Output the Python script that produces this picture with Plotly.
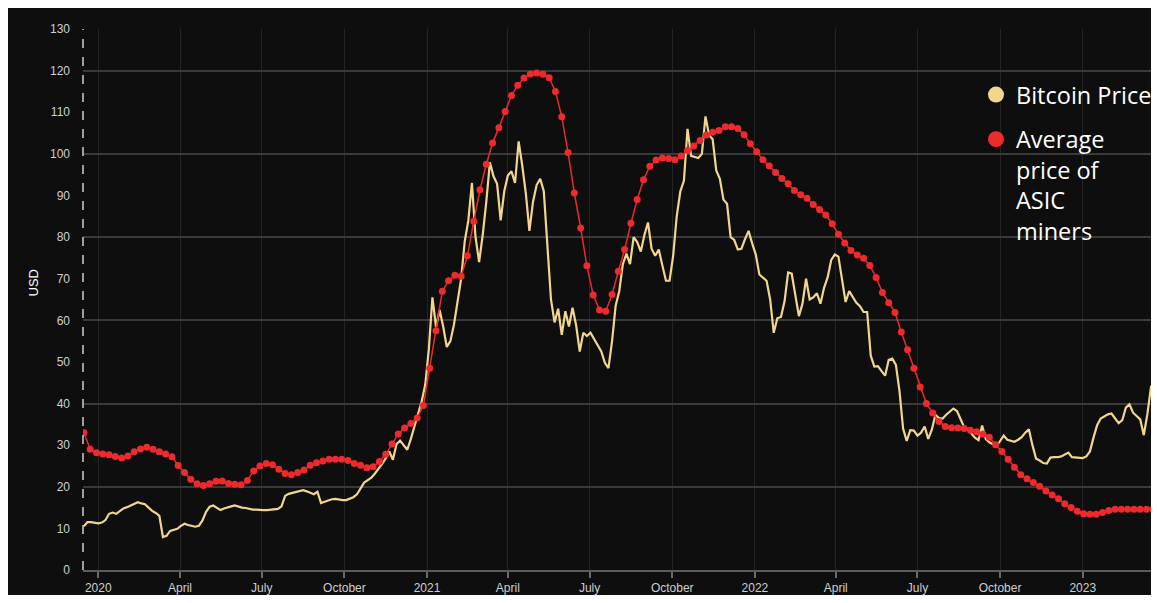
import pandas as pd
import plotly.graph_objects as go

# ---------------- data ----------------
asic_start = "2019-12-16"   # weekly series
asic_price = [
    33, 29, 28.2, 27.9, 27.7, 27.3, 26.9, 27.4, 28.4, 29.1,
    29.5, 29.0, 28.4, 27.9, 27.2, 25.1, 23.4, 21.8, 20.7, 20.3,
    20.7, 21.3, 21.4, 20.8, 20.6, 20.5, 21.5, 23.8, 25.0, 25.6,
    25.3, 24.2, 23.2, 22.9, 23.4, 24.0, 25.2, 25.8, 26.2, 26.6,
    26.6, 26.6, 26.3, 25.6, 25.2, 24.6, 24.8, 26.1, 27.8, 30.3,
    32.7, 34.1, 35.2, 36.5, 39.5, 48.5, 57.5, 67, 69.5, 70.8,
    70.6, 75.5, 83.8, 91.4, 97.5, 102.6, 106.3, 110.2, 114, 116.5,
    118.2, 119.2, 119.4, 119.1, 118.3, 115, 108.9, 100.3, 90.6, 82.2,
    73.1, 66.1, 62.5, 62.2, 66.2, 71.8, 77.0, 83.3, 89.0, 93.8,
    97.0, 98.5, 99.0, 98.9, 98.6, 99.5, 100.8, 101.9, 103.2, 104.5,
    105.2, 105.6, 106.5, 106.5, 106.1, 104.6, 102.4, 100.5, 98.6, 97.1,
    95.5, 94.1, 92.8, 91.2, 90.2, 89.3, 87.8, 86.6, 85.3, 83.2,
    80.7, 78.6, 76.8, 75.7, 74.9, 73.2, 70.3, 66.7, 64.2, 61.9,
    57.2, 52.9, 48.5, 44, 40, 37.7, 35.7, 34.5, 34.2, 34.1,
    34.0, 33.6, 33.2, 32.6, 31.9, 30.1, 28.5, 26.6, 24.7, 22.9,
    21.9, 21.0, 20.1, 19.0, 18.0, 17.1, 15.9, 15.0, 14.1, 13.5,
    13.4, 13.4, 13.8, 14.3, 14.6, 14.6, 14.6, 14.6, 14.6, 14.6,
    14.6,
]

btc_start = "2019-12-16"    # every 4 days
btc_price = [
    10.5, 11.5, 11.5, 11.3, 11.2, 11.4, 12, 13.5, 13.8, 13.5,
    14.2, 14.8, 15.1, 15.5, 15.9, 16.3, 16.0, 15.8, 15.0, 14.2,
    13.7, 13.0, 7.9, 8.2, 9.4, 9.7, 9.9, 10.6, 11.1, 10.8,
    10.6, 10.4, 10.6, 11.9, 14.0, 15.2, 15.5, 14.9, 14.4, 14.8,
    15.1, 15.3, 15.5, 15.2, 15.0, 14.9, 14.7, 14.5, 14.5, 14.4,
    14.4, 14.4, 14.5, 14.5, 14.7, 15.3, 17.8, 18.3, 18.5, 18.7,
    18.9, 19.2, 18.9, 18.6, 18.2, 18.8, 16.1, 16.4, 16.8, 17.0,
    17.1, 16.9, 16.8, 16.8, 17.1, 17.5, 18.2, 19.6, 21.0, 21.6,
    22.2, 23.2, 24.3, 25.5, 26.8, 28.5, 26.5, 30.2, 31.1, 30.0,
    28.9, 31.5, 34.5, 38, 40.5, 44.5, 53, 65.5, 58.4, 62.5,
    58.5, 53.6, 55, 59, 64, 70, 79, 84, 93, 80,
    74, 80.5, 88.5, 98, 94.6, 92.8, 84, 91, 94.8, 95.8,
    93, 103, 97.2, 90.5, 81.5, 88.5, 92.5, 94, 91, 77.5,
    65, 59.5, 62.8, 56.5, 62.2, 58.5, 63, 58.8, 52.5, 57,
    56.2, 57, 55.5, 53.8, 52.5, 49.8, 48.5, 55, 63.5, 67,
    73.5, 76, 73.5, 80, 78.8, 76.5, 80.5, 83.5, 77.2, 75.5,
    77, 73.2, 69.5, 69.5, 75.5, 85, 91, 93.5, 106, 99.5,
    99.3, 99, 100, 109, 104.5, 103.5, 96, 94, 89, 88,
    80, 79.3, 77, 77.2, 79.5, 81.5, 78.5, 75.8, 71, 70.2,
    69.5, 65, 57, 60.5, 60.8, 64.5, 71.5, 71.2, 66, 61,
    64, 70, 65, 65.5, 66.5, 64, 67.8, 70.3, 74.5, 75.8,
    75.3, 70, 64.4, 67, 65.7, 64.2, 63.4, 62, 62, 51.5,
    48.9, 49, 47.8, 46.7, 50.5, 50.8, 49.3, 43, 34, 31,
    33.6, 33.5, 32.3, 33, 34.5, 31.5, 33.7, 37.3, 36.5, 36.4,
    37.3, 38.1, 38.8, 38.2, 36.1, 34.3, 33.8, 32.7, 31.8, 31.2,
    34.7, 31.5, 30.7, 30.2, 29.7, 31, 32.3, 31.3, 31, 30.8,
    31.3, 31.9, 33, 33.8, 30, 26.8, 26.3, 25.7, 25.6, 27,
    27.1, 27.1, 27.3, 27.7, 28.2, 27.1, 27, 26.9, 26.9, 27.3,
    28.5, 31.8, 34.8, 36.4, 37, 37.4, 37.6, 36.3, 35.3, 36,
    39, 39.8, 37.8, 37, 36.2, 32.4, 37.5, 44, 45.5,
]

tick_dates = ["2020-01-01", "2020-04-01", "2020-07-01", "2020-10-01",
              "2021-01-01", "2021-04-01", "2021-07-01", "2021-10-01",
              "2022-01-01", "2022-04-01", "2022-07-01", "2022-10-01",
              "2023-01-01"]
tick_text = ["2020", "April", "July", "October",
             "2021", "April", "July", "October",
             "2022", "April", "July", "October",
             "2023"]
y_ticks = list(range(0, 131, 10))
y_grid = list(range(0, 121, 20))
x_range = ["2019-12-15", "2023-03-18"]

# ---------------- style ----------------
BG = "#0e0e0e"
YELLOW = "#f2d68e"
RED = "#ee2a2c"
TICKFONT = dict(family="Liberation Sans, Arial, sans-serif", size=12, color="#cfcfcf")

# the page has an 8px body margin; the figure is sized to fit without scrollbars
W, H = 1143, 587
ML, MR, MT, MB = 75, 0, 21, 25
PW, PH = W - ML - MR, H - MT - MB

asic_dates = pd.date_range(asic_start, periods=len(asic_price), freq="7D")
btc_dates = pd.date_range(btc_start, periods=len(btc_price), freq="4D")

fig = go.Figure()
fig.add_trace(go.Scatter(x=btc_dates, y=btc_price, mode="lines",
                         line=dict(color=YELLOW, width=2.2),
                         showlegend=False, hoverinfo="skip"))
fig.add_trace(go.Scatter(x=asic_dates, y=asic_price, mode="lines+markers",
                         line=dict(color=RED, width=1.5),
                         marker=dict(size=7, color=RED),
                         showlegend=False, hoverinfo="skip"))
# legend entries (circle symbols)
fig.add_trace(go.Scatter(x=[None], y=[None], mode="markers",
                         marker=dict(size=16, color=YELLOW),
                         name="Bitcoin Price", legendgroup="a"))
fig.add_trace(go.Scatter(x=[None], y=[None], mode="markers",
                         marker=dict(size=16, color=RED),
                         name="Average<br>price of<br>ASIC<br>miners", legendgroup="b"))
# invisible trace to carry the 20-step grid axis
fig.add_trace(go.Scatter(x=[None], y=[None], yaxis="y2", showlegend=False,
                         hoverinfo="skip"))

fig.update_layout(
    width=W, height=H,
    margin=dict(l=ML, r=MR, t=MT, b=MB, autoexpand=False),
    paper_bgcolor=BG,
    plot_bgcolor=BG,
    showlegend=True,
    legend=dict(x=(1016 - 8 - 40 - ML) / PW, y=0.919, xanchor="left", yanchor="top",
                bgcolor="rgba(0,0,0,0)", borderwidth=0,
                font=dict(family="Open Sans, sans-serif", size=23.5, color="#ffffff"),
                valign="top", traceorder="grouped", tracegroupgap=11,
                itemsizing="trace"),
    xaxis=dict(type="date", range=x_range, automargin=False,
               tickmode="array", tickvals=tick_dates, ticktext=tick_text,
               ticks="outside", ticklen=6, tickwidth=2, tickcolor="#6a6a6a",
               showline=True, linecolor="#5c5c5c", linewidth=2,
               showgrid=True, gridcolor="#242424", gridwidth=1,
               zeroline=False, tickfont=TICKFONT),
    yaxis=dict(range=[0, 130], tickmode="array", tickvals=y_ticks, automargin=False,
               showgrid=False, zeroline=False, showline=False,
               ticks="", ticklabelstandoff=12, tickfont=TICKFONT),
    yaxis2=dict(range=[0, 130], overlaying="y", side="left", automargin=False,
                tickmode="array", tickvals=y_grid,
                showticklabels=False, showgrid=True,
                gridcolor="#3a3a3a", gridwidth=1.5,
                zeroline=False, showline=False, ticks=""),
    shapes=[
        # dashed y-axis line
        dict(type="line", xref="paper", yref="paper", x0=0, x1=0, y0=0, y1=1,
             line=dict(color="#d0d0d0", width=1.5, dash="dash")),
    ],
    annotations=[
        dict(text="USD", xref="paper", yref="paper",
             x=(15 - ML) / PW, y=(H - MB - 275) / PH,
             showarrow=False, textangle=-90,
             font=dict(family="Liberation Sans, Arial, sans-serif", size=13, color="#ffffff")),
    ],
)

fig.write_html("out.html")
